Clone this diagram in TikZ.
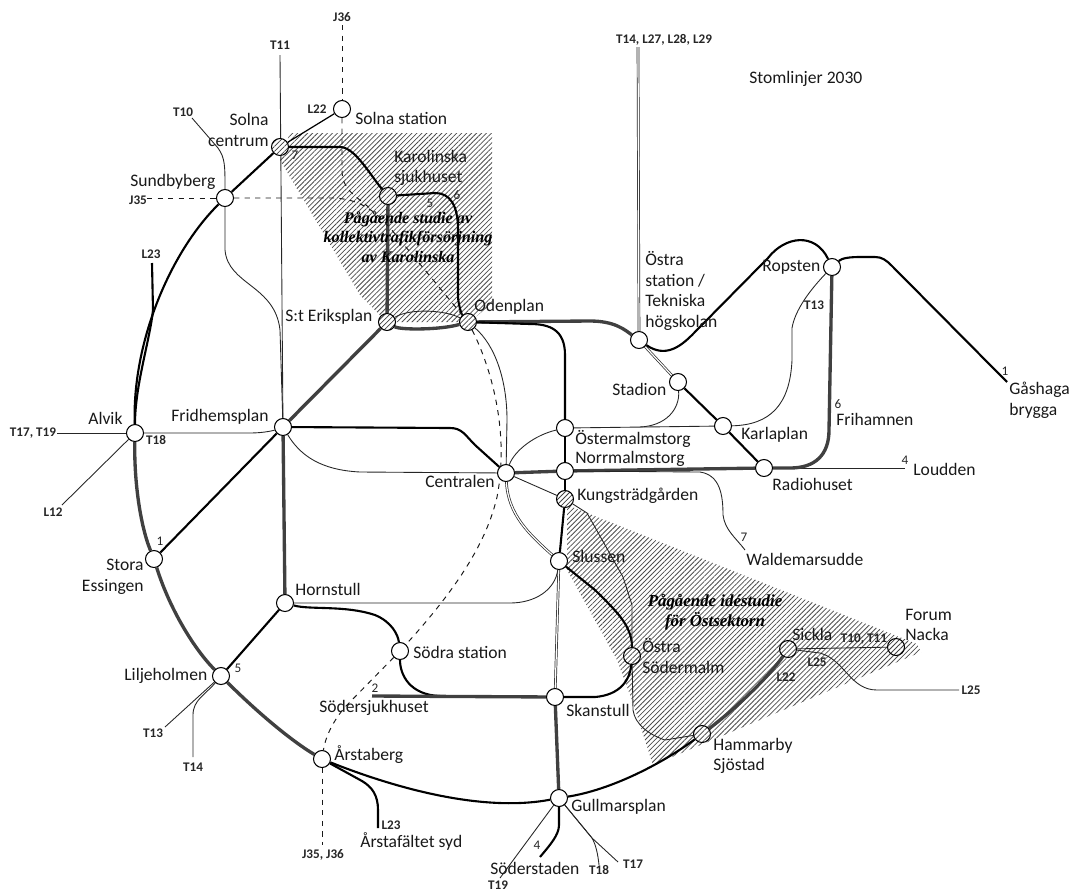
\documentclass[tikz,border=0pt]{standalone}
\usepackage{fontspec}
\setmainfont{Carlito}
\newfontfamily\studyfont{Liberation Serif}
\usetikzlibrary{patterns.meta,backgrounds}
\tikzset{
  stn/.style={circle,draw=black,fill=white,line width=.6pt,inner sep=0pt,minimum size=.34cm},
  hatchstn/.style={stn,preaction={fill=white},pattern={Lines[angle=45,distance=2pt,line width=.45pt]},pattern color=black!75},
  stnlabel/.style={inner sep=0pt,anchor=west,align=left,font=\fontsize{10}{11.8}\selectfont,text=black!90},
  linelabel/.style={inner sep=0pt,font=\bfseries\fontsize{7.5}{8}\selectfont,text=black!85},
  numlabel/.style={inner sep=0pt,font=\fontsize{7.5}{8}\selectfont,text=black!85},
  studytext/.style={inner sep=0pt,align=center,font=\studyfont\bfseries\itshape\fontsize{9.2}{11.2}\selectfont},
  studyarea/.style={pattern={Lines[angle=45,distance=2pt,line width=.45pt]},pattern color=black!70},
  heavy/.style={draw=black!75,line width=1.9pt},
  dark/.style={draw=black,line width=1.2pt},
  thin line/.style={draw=black!85,line width=.5pt},
  double line/.style={draw=black!85,line width=.4pt,double,double distance=.7pt},
  dash line/.style={draw=black!90,line width=.55pt,dashed}
}
\begin{document}
\begin{tikzpicture}[x=0.02cm,y=-0.02cm]
\useasboundingbox (0,0) rectangle (1074,893);
% stations
\foreach \stname/\x/\y in {solnast/342/109,sund/225/198,ostrast/639/340,ropsten/832/267,stadion/678/382,
  karlaplan/723/426,radiohuset/764/468,ostermalm/565/428,norrmalm/565/471,centralen/506/473,fridhem/283/427,
  alvik/135/433,essingen/154/559,hornstull/285/603,liljeholmen/221/676,sodra/400/651,slussen/559/561,
  skanstull/555/697,arstaberg/322/759,gullmars/559/798}
  \node[stn] (\stname) at (\x,\y) {};
\foreach \stname/\x/\y in {solnac/280/147,karolinska/388/196,eriksplan/387/322,odenplan/468/322,kungs/565/499,
  ostrasod/632/656,hammarby/702/734,sickla/788/649,forum/896/647}
  \node[hatchstn] (\stname) at (\x,\y) {};
% free line ends
\foreach \endname/\x/\y in {jthreesix/342/25,jthreefive/147/198,jsouth/322/845,tten/192/118,televen/280/55,
  tfourteen/638/47,lnorth/152/263,lsouth/378/828,tseventeen/57/433,ltwelve/62/505,tthirteen/165/727,
  tfourt/193/757,sjukhus/372/696,gashaga/1007/382,loudden/905/468,waldemar/745/550,lend/959/690,
  soderst/540/857,tnineteen/500/878,teighteen/599/865,tseven/618/862}
  \coordinate (\endname) at (\x,\y);
\begin{pgfonlayer}{background}
\path[studyarea] (290,133) -- (492,133) -- (492,303) -- (470,322) -- (387,322) -- (360,295) -- (280,160) -- cycle;
\path[studyarea] (567,505) -- (917,644) -- (921,652) -- (653,765) -- (633,703) -- (617,660) -- (567,570) -- cycle;
% ring line
\draw[dark] (solnac) -- (sund);
\draw[dark] (sund) .. controls (172,250) and (132,340) .. (alvik);
\draw[heavy] (alvik) .. controls (134,480) and (140,525) .. (essingen);
\draw[heavy] (essingen) .. controls (170,610) and (195,650) .. (liljeholmen);
\draw[heavy] (liljeholmen) .. controls (255,710) and (290,740) .. (arstaberg);
\draw[dark] (arstaberg) .. controls (400,790) and (485,812) .. (gullmars);
\draw[dark] (gullmars) .. controls (610,790) and (660,765) .. (hammarby);
\draw[heavy] (hammarby) .. controls (740,705) and (770,675) .. (sickla);
\draw[dark] (lnorth) -- (153,310) .. controls (150,340) and (135,385) .. (alvik);
% west and centre
\draw[dark] (essingen) -- (fridhem);
\draw[heavy] (fridhem) -- (eriksplan);
\draw[heavy] (fridhem) -- (hornstull);
\draw[dark] (hornstull) -- (liljeholmen);
\draw[dark] (solnac) -- (340,147) .. controls (355,147) and (370,175) .. (karolinska);
\draw[heavy] (karolinska) -- (eriksplan);
\draw[dark] (karolinska) -- (435,193) .. controls (450,193) and (458,205) .. (458,230) -- (458,295) .. controls (458,305) and (462,315) .. (odenplan);
\draw[heavy] (eriksplan) .. controls (400,330) and (440,330) .. (odenplan);
\draw[thin line] (eriksplan) .. controls (410,308) and (445,310) .. (odenplan);
\draw[heavy] (odenplan) -- (590,321) .. controls (615,321) and (625,330) .. (ostrast);
\draw[dark] (odenplan) -- (530,324) .. controls (550,324) and (565,330) .. (565,355) -- (ostermalm);
\draw[dark] (ostermalm) -- (norrmalm);
\draw[dark] (norrmalm) -- (kungs);
\draw[dark] (kungs) -- (slussen);
\draw[dark] (fridhem) -- (450,428) .. controls (462,428) and (465,435) .. (475,445) -- (centralen);
\draw[thin line] (fridhem) .. controls (300,455) and (320,470) .. (360,472) -- (centralen);
\draw[thin line] (alvik) -- (250,433) .. controls (265,433) and (275,430) .. (fridhem);
\draw[heavy] (centralen) -- (norrmalm);
\draw[heavy] (norrmalm) -- (radiohuset);
\draw[thin line] (radiohuset) -- (loudden);
% east
\draw[dark] (ostrast) .. controls (665,358) and (680,347) .. (692,335) -- (768,258) .. controls (785,236) and (815,232) .. (ropsten);
\draw[dark] (ropsten) .. controls (842,258) and (850,257) .. (860,257) -- (875,257) .. controls (882,257) and (886,260) .. (892,266) -- (gashaga);
\draw[heavy] (ropsten) -- (829,430) .. controls (829,455) and (815,468) .. (790,468) -- (radiohuset);
\draw[double line] (ostrast) -- (stadion);
\draw[dark] (stadion) -- (karlaplan);
\draw[dark] (karlaplan) -- (radiohuset);
\draw[double line] (tfourteen) -- (ostrast);
\draw[thin line] (stadion) .. controls (680,410) and (665,426) .. (640,427);
\draw[thin line] (ostermalm) -- (karlaplan);
\draw[thin line] (karlaplan) .. controls (770,425) and (790,405) .. (792,360) -- (792,328) .. controls (795,310) and (810,290) .. (ropsten);
\draw[thin line] (centralen) .. controls (515,450) and (535,435) .. (ostermalm);
\draw[thin line] (centralen) -- (kungs);
\draw[double line] (centralen) .. controls (508,515) and (530,535) .. (slussen);
\draw[thin line] (norrmalm) -- (700,472) .. controls (720,475) and (723,495) .. (723,515) .. controls (725,530) and (735,537) .. (waldemar);
% south
\draw[dark] (hornstull) .. controls (310,610) and (345,605) .. (375,615) .. controls (392,622) and (398,635) .. (sodra);
\draw[dark] (sodra) .. controls (400,675) and (410,695) .. (440,696);
\draw[heavy] (sjukhus) -- (skanstull);
\draw[dark] (skanstull) -- (595,697) .. controls (620,695) and (630,680) .. (ostrasod);
\draw[dark] (ostrasod) .. controls (632,625) and (615,610) .. (595,590) -- (slussen);
\draw[double line] (slussen) -- (skanstull);
\draw[heavy] (skanstull) -- (gullmars);
\draw[thin line] (hornstull) -- (510,603) .. controls (535,603) and (555,590) .. (slussen);
\draw[dark] (arstaberg) -- (362,781) .. controls (372,787) and (378,795) .. (378,810) -- (lsouth);
\draw[thin line] (kungs) -- (587,513) -- (623,577) -- (632,605) -- (ostrasod);
\draw[thin line] (ostrasod) -- (633,710) .. controls (635,725) and (650,735) .. (665,740) -- (hammarby);
\draw[thin line] (sickla) -- (forum);
\draw[thin line] (sickla) -- (820,653) .. controls (845,660) and (850,690) .. (877,690) -- (lend);
\draw[dark] (gullmars) -- (559,825) .. controls (559,835) and (550,845) .. (soderst);
\draw[thin line] (gullmars) -- (tnineteen);
\draw[thin line] (gullmars) -- (592,838) .. controls (596,845) and (598,855) .. (teighteen);
\draw[thin line] (gullmars) -- (592,838) -- (tseven);
% thin branches
\draw[thin line] (tten) -- (218,148) .. controls (225,158) and (225,165) .. (sund);
\draw[thin line] (sund) -- (225,250) .. controls (228,285) and (275,285) .. (280,330) -- (fridhem);
\draw[thin line] (televen) -- (fridhem);
\draw[dark,line width=.7pt] (solnac) -- (solnast);
\draw[thin line] (alvik) -- (tseventeen);
\draw[thin line] (alvik) -- (ltwelve);
\draw[thin line] (liljeholmen) -- (tthirteen);
\draw[thin line] (liljeholmen) .. controls (205,695) and (193,700) .. (193,715) -- (tfourt);
\draw[thin line] (odenplan) .. controls (495,345) and (507,380) .. (507,420) -- (centralen);
% dashed lines
\draw[dash line] (jthreesix) -- (solnast);
\draw[dash line] (solnast) -- (342,170) .. controls (342,190) and (355,195) .. (372,210);
\draw[dash line] (jthreefive) -- (sund);
\draw[dash line] (sund) -- (335,198) .. controls (365,200) and (380,215) .. (400,240) -- (odenplan);
\draw[dash line] (odenplan) .. controls (490,365) and (510,430) .. (497,497) .. controls (487,540) and (460,585) .. (sodra);
\draw[dash line] (sodra) -- (345,707) .. controls (330,725) and (325,740) .. (arstaberg);
\draw[dash line] (arstaberg) -- (jsouth);
\end{pgfonlayer}
% station names
\foreach \lab/\x/\y/\txt in {lsolnast/355/118/Solna station,lsund/130/182/Sundbyberg,lkarolinska/394/168/{Karolinska\\sjukhuset},
  lerik/285/317/S:t Eriksplan,loden/474/307/Odenplan,lostrast/645/291/{Östra\\station /\\Tekniska\\högskolan},
  lropsten/762/267/Ropsten,lgash/1009/400/{Gåshaga\\brygga},lfrih/836/419/Frihamnen,lstadion/612/389/Stadion,
  lkarla/741/435/Karlaplan,lradio/772/484/Radiohuset,lloud/913/469/Loudden,lostermalm/575/439/Östermalmstorg,
  lnorrm/575/459/Norrmalmstorg,lcentral/425/481/Centralen,lkungs/577/496/Kungsträdgården,lwalde/746/559/Waldemarsudde,
  lsluss/572/556/Slussen,lostrasod/642/656/{Östra\\Södermalm},lskans/566/710/Skanstull,lhamm/713/756/{Hammarby\\Sjöstad},
  lsickla/792/634/Sickla,lforum/905/625/{Forum\\Nacka},lsodra/413/652/Södra station,lsjukh/319/708/Södersjukhuset,
  lhorn/295/589/Hornstull,lfrid/171/417/Fridhemsplan,lalvik/88/418/Alvik,llilje/124/676/Liljeholmen,lstaberg/334/755/Årstaberg,
  larsta/360/841/Årstafältet syd,lgull/571/807/Gullmarsplan,lsoder/490/868/Söderstaden,lstom/749/79/Stomlinjer 2030}
  \node[stnlabel] (\lab) at (\x,\y) {\txt};
\node[stnlabel,anchor=east,align=right] (lsolnac) at (269,130) {Solna\\centrum};
\node[stnlabel,anchor=east,align=right] (lessingen) at (144,577) {Stora\\Essingen};
% line names
\foreach \lab/\x/\y/\txt in {njsix/342/17/J36,ntel/280/45/T11,ntena/183/112/T10,nltt/317/109/L22,nlnorth/151/254/L23,
  njfive/138/200/J35,nfour/664/40/{T14, L27, L28, L29},nthirt/814/305/T13,nseventeen/33/433/{T17, T19},neighteen/156/440/T18,
  ntwelve/53/512/L12,nliljt/153/733/T13,nliljf/193/767/T14,nsouth/323/855/{J35, J36},nlsouth/391/825/L23,
  ntn/498/885/T19,ntei/599/870/T18,nts/633/864/T17,nlend/971/690/L25,nlsi/817/662/L25,nlts/786/677/L22,ntenb/864/639/{T10, T11}}
  \node[linelabel] (\lab) at (\x,\y) {\txt};
% line numbers
\foreach \lab/\x/\y/\txt in {noneg/1005/371/1,ntwo/375/688/2,nfr/905/460/4,nfou/537/845/4,nfive/238/668/5,nsix/838/404/6,nsev/744/537/7,
  nones/160/541/1,nfi/430/203/5,nsi/457/195/6,nse/295/155/7}
  \node[numlabel] (\lab) at (\x,\y) {\txt};
% study areas
\node[studytext] (studyk) at (408,237) {Pågående studie av\\kollektivtrafikförsörjning\\av Karolinska};
\node[studytext,font=\studyfont\bfseries\itshape\fontsize{9.6}{11.4}\selectfont] (studyo) at (715,612) {Pågående idéstudie\\för Östsektorn};
\end{tikzpicture}
\end{document}
